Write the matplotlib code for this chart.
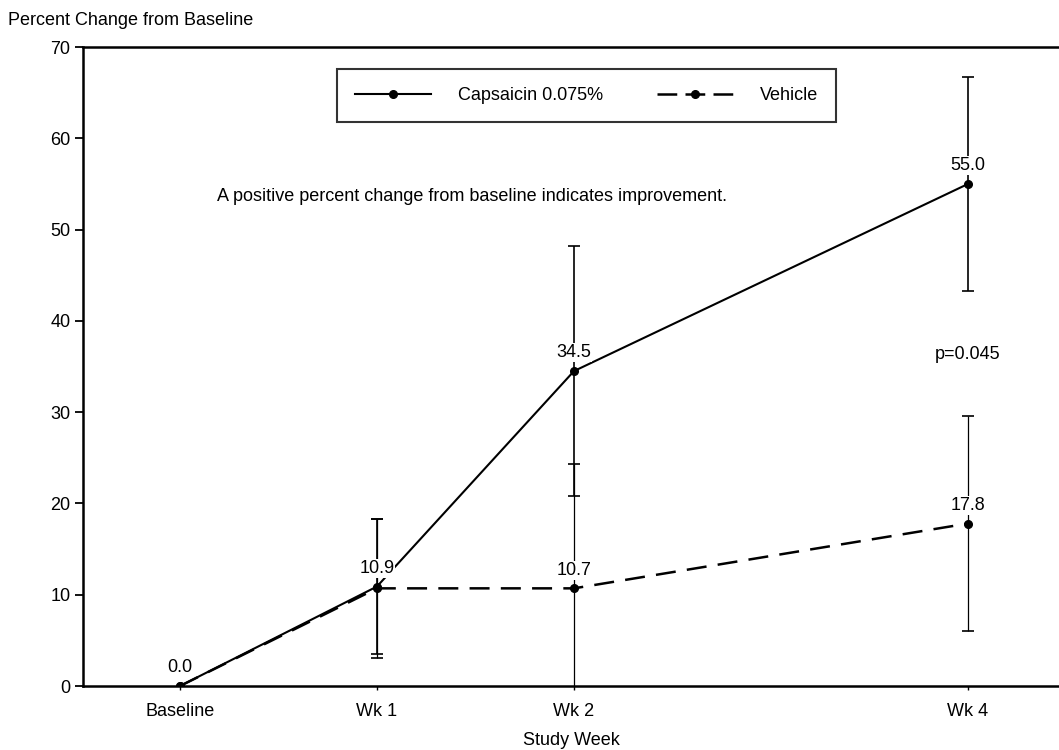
import matplotlib
matplotlib.use("Agg")
import matplotlib.pyplot as plt
import matplotlib.lines as mlines

plt.rcParams["font.family"] = "sans-serif"
plt.rcParams["font.sans-serif"] = ["Liberation Sans", "DejaVu Sans"]

# data
weeks = [0, 1, 2, 4]
week_labels = ["Baseline", "Wk 1", "Wk 2", "Wk 4"]
caps_mean = [0.0, 10.9, 34.5, 55.0]
caps_err = [0.0, 7.4, 13.7, 11.7]
veh_mean = [0.0, 10.7, 10.7, 17.8]
veh_err = [0.0, 7.6, 13.6, 11.8]
caps_labels = ["0.0", "10.9", "34.5", "55.0"]
veh_labels = [None, None, "10.7", "17.8"]

FS = 13

fig = plt.figure(figsize=(10.59, 7.5), dpi=100)
ax = fig.add_axes([0.0784, 0.0853, 0.9216, 0.852])

ax.errorbar(weeks[1:], caps_mean[1:], yerr=caps_err[1:], fmt="none",
            ecolor="black", elinewidth=1.2, capsize=4, capthick=1.2, zorder=2)
ax.errorbar(weeks[1:], veh_mean[1:], yerr=veh_err[1:], fmt="none",
            ecolor="black", elinewidth=0.9, capsize=4, capthick=1.2, zorder=2)

ax.plot(weeks, caps_mean, color="black", lw=1.5, marker="o", markersize=5.5, zorder=3)
ax.plot(weeks, veh_mean, color="black", lw=1.8, marker="o", markersize=5.5,
        dashes=(8, 4.5), zorder=3)

for x, y, t in zip(weeks, caps_mean, caps_labels):
    ax.annotate(t, (x, y), xytext=(0, 7), textcoords="offset points", ha="center",
                va="bottom", fontsize=FS, zorder=4,
                bbox=dict(boxstyle="square,pad=0.05", fc="white", ec="none"))
for x, y, t in zip(weeks, veh_mean, veh_labels):
    if t:
        ax.annotate(t, (x, y), xytext=(0, 7), textcoords="offset points", ha="center",
                    va="bottom", fontsize=FS, zorder=4,
                    bbox=dict(boxstyle="square,pad=0.05", fc="white", ec="none"))

ax.text(0.19, 53.6, "A positive percent change from baseline indicates improvement.",
        fontsize=FS, ha="left", va="center")
ax.text(4, 36.3, "p=0.045", fontsize=FS, ha="center", va="center")

ax.set_xlim(-0.492, 4.462)
ax.set_ylim(0, 70)
ax.set_yticks(range(0, 71, 10))
ax.set_xticks(weeks)
ax.set_xticklabels(week_labels)
ax.tick_params(axis="y", length=6, width=1.3, labelsize=FS, pad=3)
ax.tick_params(axis="x", length=3, width=1, labelsize=FS, pad=9)
ax.spines["right"].set_visible(False)
for s in ["left", "bottom", "top"]:
    ax.spines[s].set_linewidth(1.8)

ax.set_xlabel("Study Week", fontsize=FS, labelpad=9)
fig.text(0.008, 0.973, "Percent Change from Baseline", fontsize=FS,
         ha="left", va="center")

handles = [
    mlines.Line2D([], [], color="black", lw=1.5, marker="o", markersize=5.5,
                  label="Capsaicin 0.075%"),
    mlines.Line2D([], [], color="black", lw=1.8, marker="o", markersize=5.5,
                  dashes=(7.9, 3.3), label="Vehicle"),
]
leg = ax.legend(handles=handles, loc="upper left", bbox_to_anchor=(0.260, 0.9656),
                ncol=2, fontsize=FS, frameon=True, fancybox=False, edgecolor="black",
                handlelength=4.2, columnspacing=3.0, handletextpad=1.5,
                borderpad=1.0, borderaxespad=0)
leg.get_frame().set_linewidth(1.5)

fig.savefig("out.png", dpi=100, facecolor="white")
